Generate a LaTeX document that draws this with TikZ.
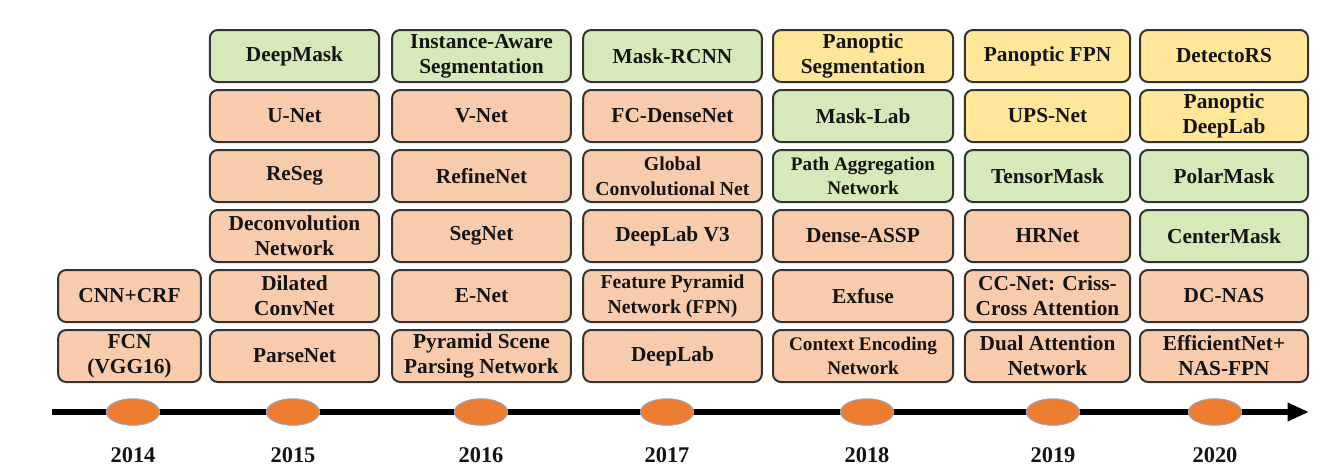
\documentclass[tikz,border=0pt]{standalone}
\usepackage{fontspec}
\setmainfont{Liberation Serif}
\usetikzlibrary{arrows.meta,shapes.geometric}
\definecolor{orfill}{HTML}{F8CBAD}
\definecolor{grfill}{HTML}{D5EAB8}
\definecolor{yefill}{HTML}{FFE699}
\definecolor{bord}{HTML}{333333}
\definecolor{dot}{HTML}{ED7D31}
\definecolor{dotline}{HTML}{8FAADC}
\definecolor{txt}{HTML}{141414}
\tikzset{
  box/.style={draw=bord, line width=1.5pt, rounded corners=6pt, minimum height=39pt,
    inner sep=0pt, align=center, text=txt,
    font=\fontsize{16}{18.8}\selectfont\bfseries},
  sm/.style={font=\fontsize{14.8}{18.5}\selectfont\bfseries},
  xs/.style={font=\fontsize{14.4}{18}\selectfont\bfseries},
  ob/.style={box, fill=orfill},
  gb/.style={box, fill=grfill},
  yb/.style={box, fill=yefill},
  yeardot/.style={ellipse, draw=dotline, line width=0.6pt, fill=dot, minimum width=40pt, minimum height=20pt, inner sep=0pt},
  yearlab/.style={font=\fontsize{16.8}{18}\selectfont\bfseries, text=txt},
  w14/.style={minimum width=107pt},
  w15/.style={minimum width=127pt},
  w16/.style={minimum width=134pt},
  w17/.style={minimum width=134pt},
  w18/.style={minimum width=135pt},
  w19/.style={minimum width=124pt},
  w20/.style={minimum width=126pt},
}
\begin{document}
\begin{tikzpicture}[x=0.75pt, y=-0.75pt]
\useasboundingbox (0,0) rectangle (1330,472);
% 2014
\node[ob, w14] (a5) at (129.5,296) {CNN+CRF};
\node[ob, w14] (a6) at (129.5,356) {FCN\\(VGG16)};
% 2015
\node[gb, w15] (b1) at (294.5,56) {DeepMask};
\node[ob, w15] (b2) at (294.5,116) {U-Net};
\node[ob, w15] (b3) at (294.5,176) {ReSeg};
\node[ob, w15] (b4) at (294.5,236) {Deconvolution\\Network};
\node[ob, w15] (b5) at (294.5,296) {Dilated\\ConvNet};
\node[ob, w15] (b6) at (294.5,356) {ParseNet};
% 2016
\node[gb, w16] (c1) at (481.5,56) {Instance-Aware\\Segmentation};
\node[ob, w16] (c2) at (481.5,116) {V-Net};
\node[ob, w16] (c3) at (481.5,176) {RefineNet};
\node[ob, w16] (c4) at (481.5,236) {SegNet};
\node[ob, w16] (c5) at (481.5,296) {E-Net};
\node[ob, w16] (c6) at (481.5,356) {Pyramid Scene\\Parsing Network};
% 2017
\node[gb, w17] (d1) at (672.5,56) {Mask-RCNN};
\node[ob, w17] (d2) at (672.5,116) {FC-DenseNet};
\node[ob, w17, sm] (d3) at (672.5,176) {Global\\Convolutional Net};
\node[ob, w17] (d4) at (672.5,236) {DeepLab V3};
\node[ob, w17, sm] (d5) at (672.5,296) {Feature Pyramid\\Network (FPN)};
\node[ob, w17] (d6) at (672.5,356) {DeepLab};
% 2018
\node[yb, w18] (e1) at (863,56) {Panoptic\\Segmentation};
\node[gb, w18] (e2) at (863,116) {Mask-Lab};
\node[gb, w18, xs] (e3) at (863,176) {Path Aggregation\\Network};
\node[ob, w18] (e4) at (863,236) {Dense-ASSP};
\node[ob, w18] (e5) at (863,296) {Exfuse};
\node[ob, w18, xs] (e6) at (863,356) {Context Encoding\\Network};
% 2019
\node[yb, w19] (f1) at (1047.5,56) {Panoptic FPN};
\node[yb, w19] (f2) at (1047.5,116) {UPS-Net};
\node[gb, w19] (f3) at (1047.5,176) {TensorMask};
\node[ob, w19] (f4) at (1047.5,236) {HRNet};
\node[ob, w19] (f5) at (1047.5,296) {CC-Net: Criss-\\Cross Attention};
\node[ob, w19] (f6) at (1047.5,356) {Dual Attention\\Network};
% 2020
\node[yb, w20] (g1) at (1224,56) {DetectoRS};
\node[yb, w20] (g2) at (1224,116) {Panoptic\\DeepLab};
\node[gb, w20] (g3) at (1224,176) {PolarMask};
\node[gb, w20] (g4) at (1224,236) {CenterMask};
\node[ob, w20] (g5) at (1224,296) {DC-NAS};
\node[ob, w20] (g6) at (1224,356) {EfficientNet+\\NAS-FPN};
% timeline
\coordinate (tl0) at (52,412);
\coordinate (tl1) at (1309,412);
\draw[line width=4pt, -{Triangle[length=16pt, width=13pt]}] (tl0) -- (tl1);
\foreach \n/\x/\yr in {y14/133/2014, y15/293/2015, y16/481/2016, y17/667/2017, y18/867/2018, y19/1053/2019, y20/1215/2020}{
  \node[yeardot] (\n) at (\x,412) {};
  \node[yearlab] (\n l) at (\x,455) {\yr};
}
\end{tikzpicture}
\end{document}
